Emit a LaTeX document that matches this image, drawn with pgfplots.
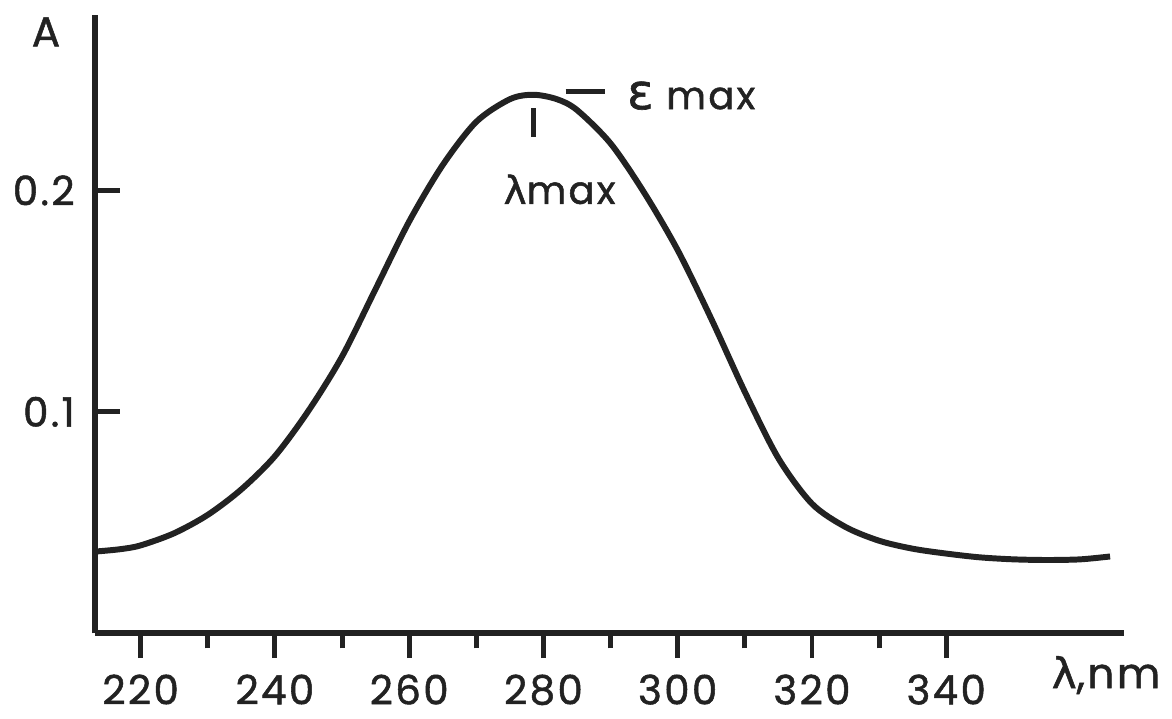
\documentclass[border=0pt]{standalone}
\usepackage{fontspec}
\setmainfont{Poppins}[FakeBold=1.3, LetterSpace=6]
\newfontfamily\greek{DejaVu Sans}[FakeBold=1.3]
\usepackage{pgfplots}
\pgfplotsset{compat=1.18}
\definecolor{ink}{HTML}{222222}

\begin{document}
\begin{tikzpicture}
\begin{axis}[
    x=0.0673cm, y=22.2cm,
    xmin=213.2, xmax=366.4,
    ymin=0, ymax=0.279,
    axis lines*=left,
    axis line style={line width=1.7pt, color=ink},
    xtick={220,240,...,340},
    minor xtick={230,250,...,330},
    ytick={0.1,0.2},
    yticklabels={0.1,0.2},
    xtick align=outside,
    ytick align=inside,
    major tick length=0.25cm,
    minor tick length=0.15cm,
    every tick/.style={line width=1.4pt, color=ink},
    tick label style={font=\fontsize{11.5}{13}\selectfont, text=ink},
    xticklabel style={yshift=-0.04cm},
    yticklabel style={xshift=-0.08cm},
    /pgf/number format/assume math mode=true,
    clip=false,
]
% absorbance spectrum
\addplot[smooth, line width=1.7pt, color=ink] coordinates {
    (213.6,0.0370) (217,0.0380) (220,0.0397) (225,0.0452)
    (230,0.0535) (235,0.0650) (240,0.0800) (245,0.1005)
    (250,0.1250) (255,0.1555) (260,0.1860) (265,0.2115)
    (270,0.2310) (275,0.2412) (278.5,0.2432) (282,0.2412)
    (285,0.2363) (290,0.2212) (295,0.1990) (300,0.1730)
    (305,0.1420) (310,0.1090) (315,0.0790) (320,0.0585)
    (325,0.0480) (330,0.0418) (335,0.0382) (340,0.0360)
    (345,0.0343) (350,0.0334) (355,0.0331) (360,0.0334)
    (364.4,0.0347)
};

% annotations
\draw[line width=1.4pt, color=ink] (axis cs:278.5,0.237) -- (axis cs:278.5,0.224);
\draw[line width=1.4pt, color=ink] (axis cs:283.3,0.2446) -- (axis cs:289.2,0.2446);
\node[text=ink, font=\fontsize{11}{13}\selectfont] at (axis cs:282.4,0.2005) {{\greek λ}max};
\node[text=ink, font=\fontsize{11}{13}\selectfont] at (axis cs:302.0,0.2428) {{\greek\fontsize{14}{16}\selectfont ε} max};
\node[text=ink, font=\fontsize{12}{14}\selectfont] at (axis cs:205.9,0.2716) {A};
\node[text=ink, font=\fontsize{12}{14}\selectfont] at (axis cs:363.8,-0.0189) {{\greek λ},nm};

% page frame
\path (axis cs:199.05,-0.0383) rectangle (axis cs:373.2,0.2860);
\end{axis}
\end{tikzpicture}
\end{document}
